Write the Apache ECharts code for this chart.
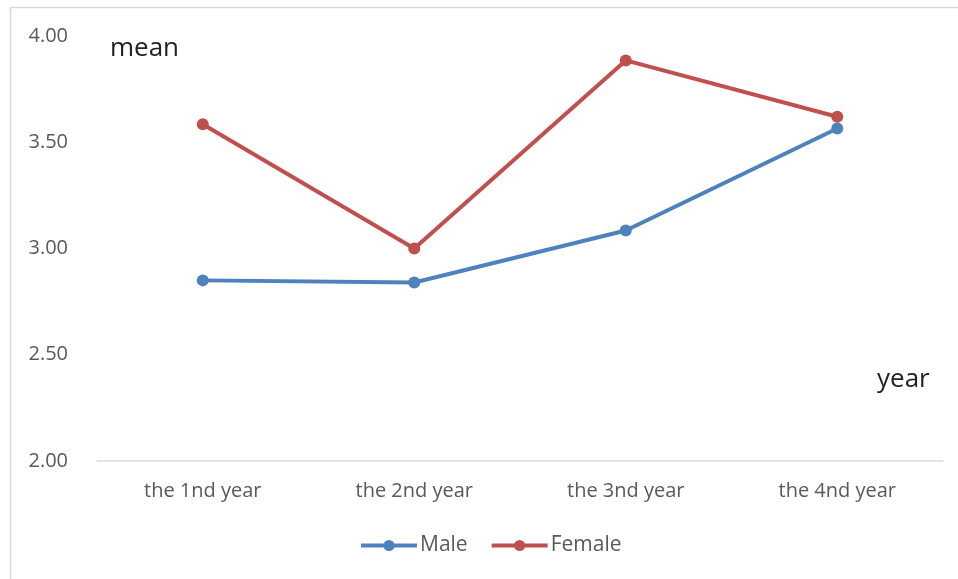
<!DOCTYPE html>
<html>
<head>
<meta charset="utf-8">
<script src="https://cdn.jsdelivr.net/npm/echarts@6/dist/echarts.min.js"></script>
<style>
  html, body { margin: 0; padding: 0; background: #fff; }
  #main { width: 958px; height: 579px; }
</style>
</head>
<body>
<div id="main"></div>
<script>
// data
var years = ['the 1nd year', 'the 2nd year', 'the 3nd year', 'the 4nd year'];
var male = [2.85, 2.84, 3.085, 3.565];
var female = [3.585, 3.00, 3.885, 3.62];
var yTicks = [2.0, 2.5, 3.0, 3.5, 4.0];

var myChart = echarts.init(document.getElementById('main'));

var font = 'Open Sans, Liberation Sans, sans-serif';

var option = {
    backgroundColor: '#fff',
    animation: false,
    textStyle: { fontFamily: font },
    grid: { left: 97, right: 15, top: 36, bottom: 118 },
    legend: {
        data: ['Male', 'Female'],
        bottom: 18,
        left: 354,
        itemWidth: 56,
        itemHeight: 14,
        itemGap: 22,
        lineStyle: { width: 4 },
        textStyle: { color: '#595959', fontSize: 21, fontFamily: font, padding: [0, 0, 0, -2] }
    },
    xAxis: {
        type: 'category',
        data: years,
        boundaryGap: true,
        axisLine: { lineStyle: { color: '#d9d9d9', width: 1.5 } },
        axisTick: { show: false },
        axisLabel: { color: '#595959', fontSize: 20, margin: 20, fontFamily: font }
    },
    yAxis: {
        type: 'value',
        min: yTicks[0],
        max: yTicks[yTicks.length - 1],
        interval: 0.5,
        splitLine: { show: false },
        axisLine: { show: false },
        axisTick: { show: false },
        axisLabel: {
            color: '#595959', fontSize: 20, margin: 29, fontFamily: font,
            formatter: function (v) { return v.toFixed(2); }
        }
    },
    graphic: [
        { type: 'line', shape: { x1: 10, y1: 7.5, x2: 958, y2: 7.5 }, style: { stroke: '#d9d9d9', lineWidth: 1.5 } },
        { type: 'line', shape: { x1: 10.5, y1: 7, x2: 10.5, y2: 579 }, style: { stroke: '#d9d9d9', lineWidth: 1.5 } },
        { type: 'text', left: 110, top: 36, style: { text: 'mean', fill: '#222', fontSize: 26, fontFamily: font } },
        { type: 'text', left: 877, top: 367, style: { text: 'year', fill: '#222', fontSize: 26, fontFamily: font } }
    ],
    series: [
        {
            name: 'Male',
            type: 'line',
            data: male,
            symbol: 'circle',
            symbolSize: 12,
            lineStyle: { width: 4, color: '#4f81bd' },
            itemStyle: { color: '#4f81bd' }
        },
        {
            name: 'Female',
            type: 'line',
            data: female,
            symbol: 'circle',
            symbolSize: 12,
            lineStyle: { width: 4, color: '#c0504d' },
            itemStyle: { color: '#c0504d' }
        }
    ]
};

myChart.setOption(option);
</script>
</body>
</html>
